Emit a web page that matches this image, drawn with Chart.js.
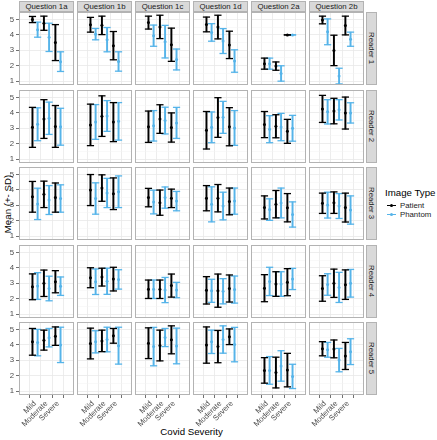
<!DOCTYPE html>
<html>
<head>
<meta charset="utf-8">
<title>Covid severity by reader and question</title>
<script src="https://cdn.jsdelivr.net/npm/chart.js@4.4.1/dist/chart.umd.min.js"></script>
<style>
  body { margin: 0; background: #fff; font-family: "Liberation Sans", Arial, sans-serif; }
  #wrap { position: relative; width: 437px; height: 440px; overflow: hidden; }
  #wrap canvas { position: absolute; }
  .strip { position: absolute; box-sizing: border-box; background: #d9d9d9; border: 1px solid #b3b3b3;
           color: #1a1a1a; font-size: 7.8px; display: flex; align-items: center; justify-content: center; white-space: nowrap; }
  .strip.right { writing-mode: vertical-rl; }
  .title { position: absolute; font-size: 9.7px; color: #000; white-space: nowrap; }
  #ytitle { transform: translate(-50%, -50%) rotate(-90deg); left: 7px; top: 204px; }
  #xtitle { transform: translateX(-50%); left: 191.5px; top: 426px; }
  #legend { position: absolute; left: 385px; top: 187px; }
  #legend .ltitle { font-size: 9.7px; margin-bottom: 3px; }
  #legend .item { position: relative; font-size: 7.8px; color: #1a1a1a; height: 9px; line-height: 9px; padding-left: 15px; }
  #legend .key { position: absolute; left: 2px; top: 4px; width: 9px; height: 0; border-top: 1.3px solid; }
  #legend .dot { position: absolute; left: 3px; top: -2.4px; width: 3px; height: 3px; border-radius: 50%; }
</style>
</head>
<body>
<div id="wrap">
  <div id="ytitle" class="title">Mean (+- SD)</div>
  <div id="xtitle" class="title">Covid Severity</div>
  <div id="legend"></div>
</div>
<script>
// facets and groups
const questions = ['Question 1a', 'Question 1b', 'Question 1c', 'Question 1d', 'Question 2a', 'Question 2b'];
const readers = ['Reader 1', 'Reader 2', 'Reader 3', 'Reader 4', 'Reader 5'];
const severities = ['Mild', 'Moderate', 'Severe'];
const imageTypes = ['Patient', 'Phantom'];
const yTicks = [1, 2, 3, 4, 5];

// one row per reader, one entry per question, each [Mild, Moderate, Severe]
const patientMean = [
  [[5.00, 4.76, 3.50], [4.66, 4.62, 3.30], [4.80, 4.52, 3.36], [4.68, 4.51, 3.35], [2.13, 1.97, 4.00], [4.97, 2.99, 4.61]],
  [[3.06, 3.60, 3.12], [3.22, 3.79, 3.40], [3.10, 3.60, 3.05], [2.87, 3.70, 3.10], [3.24, 3.13, 2.80], [4.26, 4.12, 3.99]],
  [[3.55, 3.71, 3.50], [3.99, 4.12, 3.75], [3.50, 3.17, 3.45], [3.46, 3.46, 3.25], [2.86, 3.07, 2.84], [3.13, 3.17, 2.85]],
  [[2.77, 3.00, 3.10], [3.36, 3.40, 3.27], [2.61, 2.61, 2.85], [2.54, 2.52, 2.66], [2.68, 2.95, 3.07], [2.66, 3.00, 2.91]],
  [[4.20, 4.31, 4.57], [4.09, 4.26, 4.59], [4.11, 3.96, 4.33], [3.99, 3.89, 4.53], [2.34, 2.20, 2.36], [3.75, 3.74, 3.28]]
];
const patientSD = [
  [[0.20, 0.46, 1.17], [0.48, 0.60, 0.92], [0.42, 0.76, 1.08], [0.48, 0.77, 0.89], [0.36, 0.27, 0.00], [0.25, 0.99, 0.61]],
  [[1.30, 1.26, 1.36], [1.35, 1.32, 1.27], [1.02, 0.93, 0.95], [1.22, 1.29, 1.24], [0.85, 0.75, 0.78], [0.88, 0.83, 1.04]],
  [[1.00, 0.86, 0.95], [1.01, 0.86, 1.03], [0.60, 0.82, 0.60], [0.82, 0.89, 0.87], [0.75, 0.89, 0.92], [0.66, 0.70, 0.94]],
  [[0.84, 0.86, 0.72], [0.65, 0.58, 0.77], [0.60, 0.60, 0.75], [0.89, 1.08, 0.88], [0.88, 0.80, 0.88], [0.83, 0.92, 0.96]],
  [[0.87, 0.65, 0.60], [1.00, 0.70, 0.48], [1.00, 1.00, 0.91], [1.18, 1.05, 0.51], [0.83, 1.00, 1.09], [0.46, 0.58, 0.88]]
];
const phantomMean = [
  [[4.34, 3.84, 2.26], [4.05, 3.69, 2.27], [3.95, 3.56, 2.40], [4.16, 3.60, 2.30], [2.13, 1.49, 4.00], [4.20, 1.32, 3.72]],
  [[3.26, 3.65, 3.10], [3.41, 3.80, 3.45], [3.16, 3.50, 3.35], [3.06, 3.71, 3.02], [2.94, 3.08, 3.00], [4.07, 4.20, 4.00]],
  [[3.09, 3.34, 3.44], [3.44, 3.80, 3.88], [3.21, 3.50, 3.27], [3.06, 2.95, 3.27], [2.72, 3.15, 2.40], [3.01, 2.95, 2.69]],
  [[2.82, 2.66, 2.81], [3.10, 3.13, 3.25], [2.61, 2.56, 2.56], [2.51, 2.48, 2.59], [3.12, 2.95, 3.28], [2.92, 2.73, 3.00]],
  [[4.15, 4.47, 4.00], [4.20, 4.35, 3.95], [3.89, 4.48, 3.93], [4.20, 4.35, 4.02], [2.34, 2.63, 1.95], [3.68, 3.01, 3.56]]
];
const phantomSD = [
  [[0.49, 0.92, 0.64], [0.37, 0.79, 0.63], [0.69, 1.06, 0.68], [0.57, 0.81, 0.73], [0.36, 0.50, 0.00], [0.84, 0.51, 0.46]],
  [[1.07, 1.05, 1.20], [1.13, 1.00, 1.22], [0.99, 0.87, 1.01], [1.00, 1.04, 1.13], [0.88, 0.89, 0.84], [0.79, 0.66, 0.66]],
  [[1.02, 0.94, 0.89], [1.02, 0.95, 1.03], [0.77, 0.69, 0.63], [1.14, 0.90, 0.85], [0.70, 0.97, 0.82], [0.84, 0.81, 0.92]],
  [[0.87, 0.80, 0.60], [0.83, 0.85, 0.63], [0.60, 0.82, 0.50], [0.75, 0.82, 0.88], [0.92, 0.80, 0.69], [0.70, 0.98, 0.90]],
  [[0.86, 0.60, 1.15], [0.72, 0.80, 1.20], [1.25, 0.59, 1.16], [0.76, 0.89, 1.12], [0.90, 0.99, 0.79], [0.48, 0.76, 0.84]]
];

// --- styling / layout ---
const typeColors = ['#000000', '#56B4E9'];
const FONT = 'Liberation Sans, Arial, sans-serif';
const DODGE = 0.225;
const PANEL_W = 55, PANEL_H = 73;
const colLeft = [19, 77, 135, 193, 251, 309];
const rowTop = [12, 90, 167, 245, 322];
const Y_AXIS_W = 18, X_AXIS_H = 40;

// light grey frame round each panel
const panelFrame = {
  id: 'panelFrame',
  afterDatasetsDraw(chart) {
    const a = chart.chartArea, ctx = chart.ctx;
    ctx.save();
    ctx.strokeStyle = '#b3b3b3';
    ctx.lineWidth = 1;
    ctx.strokeRect(a.left + 0.5, a.top + 0.5, a.width - 1, a.height - 1);
    ctx.restore();
  }
};

function panelDatasets(r, q) {
  const sets = [];
  const groups = [[patientMean, patientSD], [phantomMean, phantomSD]];
  groups.forEach(([means, sds], t) => {
    const col = typeColors[t];
    const m = means[r][q], sd = sds[r][q];
    const xs = severities.map((s, i) => i + 1 + (t === 0 ? -DODGE : DODGE));
    // vertical whisker
    sets.push({
      type: 'bar', label: imageTypes[t],
      data: xs.map((x, i) => ({ x: x, y: [m[i] - sd[i], m[i] + sd[i]] })),
      backgroundColor: col, borderWidth: 0, barThickness: 1.3, grouped: false
    });
    // caps
    sets.push({
      type: 'scatter',
      data: xs.flatMap((x, i) => [{ x: x, y: m[i] - sd[i] }, { x: x, y: m[i] + sd[i] }]),
      pointStyle: 'line', pointRadius: 3.6, borderColor: col, borderWidth: 1.3
    });
    // mean
    sets.push({
      type: 'scatter',
      data: xs.map((x, i) => ({ x: x, y: m[i] })),
      pointStyle: 'circle', pointRadius: 1.5, backgroundColor: col, borderWidth: 0
    });
  });
  return sets;
}

function makePanel(r, q) {
  const left = q === 0, bottom = r === readers.length - 1;
  const padL = (left || bottom) ? Y_AXIS_W : 0;
  const padB = bottom ? X_AXIS_H : 0;
  const canvas = document.createElement('canvas');
  canvas.width = PANEL_W + padL;
  canvas.height = PANEL_H + padB;
  canvas.style.left = (colLeft[q] - padL) + 'px';
  canvas.style.top = rowTop[r] + 'px';
  document.getElementById('wrap').appendChild(canvas);

  const yGrid = [];
  yTicks.forEach((v, i) => { yGrid.push(v); if (i < yTicks.length - 1) yGrid.push(v + 0.5); });

  new Chart(canvas, {
    type: 'scatter',
    data: { datasets: panelDatasets(r, q) },
    options: {
      responsive: false, animation: false, devicePixelRatio: 1,
      layout: { padding: 0, autoPadding: false },
      plugins: { legend: { display: false }, tooltip: { enabled: false } },
      scales: {
        x: {
          type: 'linear', min: 0.4, max: 3.6,
          afterBuildTicks: s => { s.ticks = severities.map((n, i) => ({ value: i + 1 })); },
          afterFit: s => { s.height = padB; s.paddingLeft = 0; s.paddingRight = 0; },
          border: { display: false },
          grid: { color: '#e8e8e8', lineWidth: 0.8, drawTicks: bottom, tickLength: 3, tickColor: '#4d4d4d', tickWidth: 0.8 },
          ticks: {
            display: bottom, autoSkip: false, minRotation: 45, maxRotation: 45, padding: 1,
            color: '#4d4d4d', font: { family: FONT, size: 7.8 },
            callback: v => severities[v - 1]
          }
        },
        y: {
          type: 'linear', min: 0.74, max: 5.49,
          afterBuildTicks: s => { s.ticks = yGrid.map(v => ({ value: v })); },
          afterFit: s => { s.width = padL; s.paddingTop = 0; s.paddingBottom = 0; },
          border: { display: false },
          grid: {
            color: c => Number.isInteger(c.tick.value) ? '#e8e8e8' : '#f3f3f3',
            lineWidth: c => Number.isInteger(c.tick.value) ? 0.8 : 0.5,
            drawTicks: left, tickLength: 3, tickWidth: 0.8,
            tickColor: c => Number.isInteger(c.tick.value) ? '#4d4d4d' : 'rgba(0,0,0,0)'
          },
          ticks: {
            display: left, padding: 2, color: '#4d4d4d', font: { family: FONT, size: 7.8 },
            callback: v => Number.isInteger(v) ? String(v) : ''
          }
        }
      }
    },
    plugins: [panelFrame]
  });
}

function addStrip(text, x, y, w, h, cls) {
  const d = document.createElement('div');
  d.className = 'strip' + (cls ? ' ' + cls : '');
  d.textContent = text;
  Object.assign(d.style, { left: x + 'px', top: y + 'px', width: w + 'px', height: h + 'px' });
  document.getElementById('wrap').appendChild(d);
}

readers.forEach((rd, r) => questions.forEach((qn, q) => makePanel(r, q)));
questions.forEach((qn, q) => addStrip(qn, colLeft[q], 1, PANEL_W, 11));
readers.forEach((rd, r) => addStrip(rd, 366, rowTop[r], 11, PANEL_H, 'right'));

// legend
const legend = document.getElementById('legend');
legend.innerHTML = '<div class="ltitle">Image Type</div>' + imageTypes.map((t, i) =>
  '<div class="item"><span class="key" style="border-color:' + typeColors[i] + '">' +
  '<span class="dot" style="background:' + typeColors[i] + '"></span></span>' + t + '</div>').join('');
</script>
</body>
</html>
